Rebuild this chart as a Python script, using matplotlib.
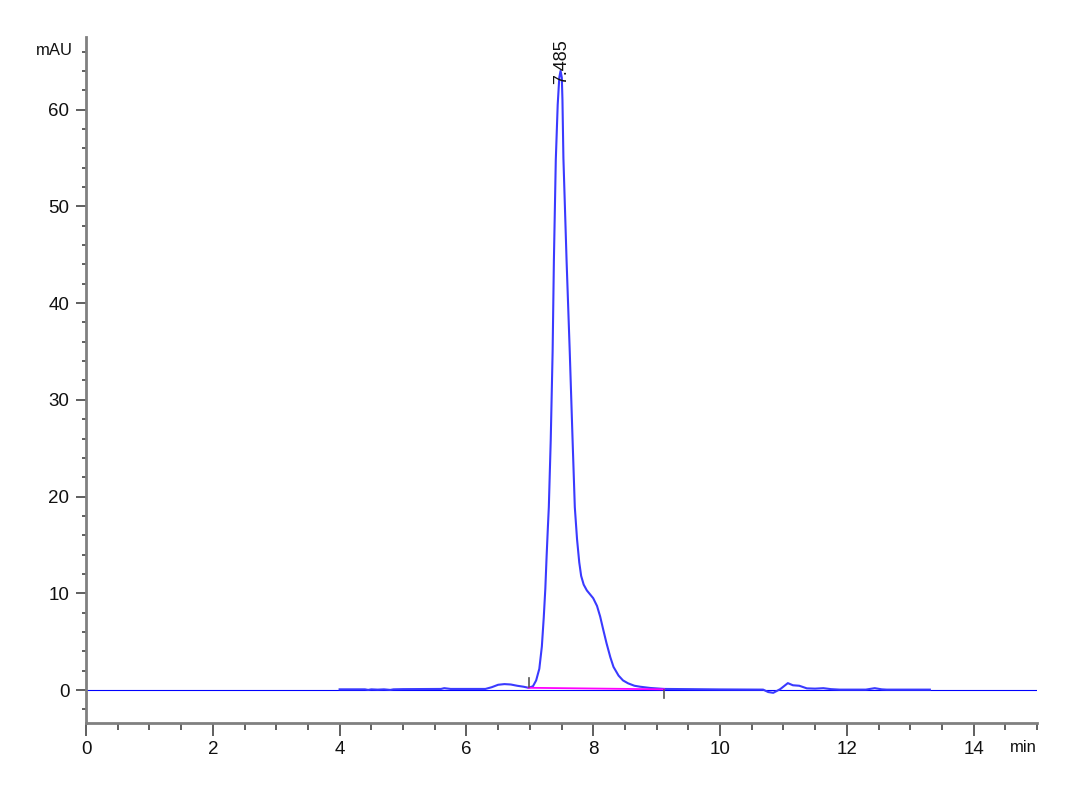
import matplotlib
matplotlib.use("Agg")
import matplotlib.pyplot as plt
from matplotlib.ticker import MultipleLocator

# ---- data ----
time_min = [4.00, 4.40, 4.45, 4.50, 4.60, 4.70, 4.80, 4.85, 5.00, 5.60, 5.65, 5.75,
            6.30, 6.40, 6.50, 6.60, 6.70, 6.80, 6.90, 6.98, 7.05, 7.10, 7.15, 7.19,
            7.22, 7.245, 7.265, 7.285, 7.30, 7.33, 7.36, 7.38, 7.41, 7.44, 7.465, 7.485,
            7.505, 7.515, 7.53, 7.58, 7.63, 7.675, 7.71, 7.745, 7.78, 7.81, 7.85, 7.90,
            7.95, 8.00, 8.06, 8.11, 8.16, 8.21, 8.27, 8.32, 8.40, 8.47, 8.55, 8.65, 8.74,
            8.90, 9.12, 9.50, 10.00, 10.68, 10.76, 10.84, 10.95, 11.07, 11.15, 11.25,
            11.37, 11.50, 11.63, 11.75, 11.89, 12.30, 12.44, 12.55, 12.63, 13.31]
signal_mau = [0.08, 0.08, 0.02, 0.08, 0.05, 0.08, 0.02, 0.08, 0.10, 0.12, 0.20, 0.12,
              0.12, 0.30, 0.55, 0.62, 0.58, 0.45, 0.35, 0.24, 0.40, 1.00, 2.20, 4.50,
              7.50, 10.5, 13.8, 16.8, 18.9, 25.8, 35.0, 44.4, 54.8, 60.5, 63.3, 64.0,
              63.3, 61.0, 55.0, 44.4, 35.0, 25.8, 18.9, 15.6, 13.2, 11.8, 10.9, 10.3,
              9.9, 9.5, 8.7, 7.6, 6.2, 4.85, 3.4, 2.4, 1.5, 1.0, 0.7, 0.45, 0.35,
              0.22, 0.12, 0.10, 0.07, 0.05, -0.20, -0.28, 0.10, 0.72, 0.50, 0.45,
              0.18, 0.15, 0.20, 0.10, 0.05, 0.05, 0.20, 0.08, 0.05, 0.05]

peak_rt = 7.485
peak_height = 64.0
peak_label = "7.485"
baseline_t = [6.98, 9.12]
baseline_y = [0.24, 0.08]

x_range = [0, 15]
y_range = [-3.4, 67.5]
x_ticks = [0, 2, 4, 6, 8, 10, 12, 14]
y_ticks = [0, 10, 20, 30, 40, 50, 60]

# ---- figure ----
fig = plt.figure(figsize=(10.8, 7.92), dpi=100)
ax = fig.add_axes([86/1080, 69/792, 951/1080, 686/792])

tick_font = ['Liberation Sans Narrow', 'Liberation Sans', 'DejaVu Sans']

# zero line and trace
ax.axhline(0, color='#0000ff', lw=0.8, zorder=2)
ax.plot(time_min, signal_mau, color='#3a3aff', lw=1.5, zorder=3)
ax.plot(baseline_t, baseline_y, color='#ff00ff', lw=1.3, zorder=4)

# peak start / end markers
ax.plot([baseline_t[0]] * 2, [baseline_y[0] + 0.1, baseline_y[0] + 1.0],
        color='#555555', lw=1.2, zorder=5)
ax.plot([baseline_t[1]] * 2, [baseline_y[1] - 0.1, baseline_y[1] - 0.9],
        color='#555555', lw=1.2, zorder=5)

ax.text(peak_rt + 0.02, peak_height - 1.4, peak_label, rotation=90, ha='center', va='bottom',
        fontsize=13, family=['Liberation Sans', 'DejaVu Sans'], color='#111111')

ax.set_xlim(*x_range)
ax.set_ylim(*y_range)

for s in ['top', 'right']:
    ax.spines[s].set_visible(False)
for s in ['left', 'bottom']:
    ax.spines[s].set_color('#808080')
    ax.spines[s].set_linewidth(2.0)

ax.set_xticks(x_ticks)
ax.set_yticks(y_ticks)
ax.xaxis.set_minor_locator(MultipleLocator(0.5))
ax.yaxis.set_minor_locator(MultipleLocator(2))
ax.tick_params(axis='x', which='major', length=9, width=1.2, color='#444444', pad=4)
ax.tick_params(axis='x', which='minor', length=5, width=1.2, color='#444444')
ax.tick_params(axis='y', which='major', length=7, width=1.2, color='#444444', pad=5)
ax.tick_params(axis='y', which='minor', length=3, width=1.2, color='#444444')
for lab in ax.get_xticklabels() + ax.get_yticklabels():
    lab.set_family(tick_font)
    lab.set_fontsize(13.5)
    lab.set_color('#111111')

ax.text(-0.0137, 0.98, "mAU", transform=ax.transAxes, ha='right', va='center',
        fontsize=12, family=tick_font, color='#111111')
ax.text(1.0, -0.035, "min", transform=ax.transAxes, ha='right', va='center',
        fontsize=12, family=tick_font, color='#111111')

fig.savefig("out.png", dpi=100, facecolor='white')
